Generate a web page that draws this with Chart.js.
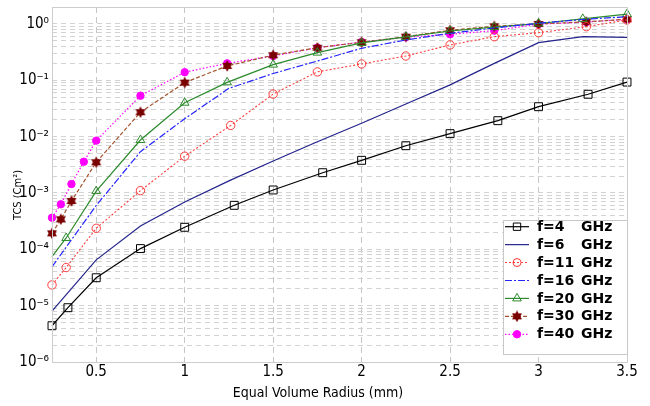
<!DOCTYPE html>
<html>
<head>
<meta charset="utf-8">
<script src="https://cdn.jsdelivr.net/npm/chart.js@4.4.0/dist/chart.umd.min.js"></script>
<style>
html,body{margin:0;padding:0;background:#fff;}
#wrap{width:650px;height:406px;position:relative;}
</style>
</head>
<body>
<div id="wrap"><canvas id="c" width="650" height="406"></canvas></div>
<script>
// ---- data ----
const seriesLabels = ['f=4   GHz', 'f=6   GHz', 'f=11 GHz', 'f=16 GHz', 'f=20 GHz', 'f=30 GHz', 'f=40 GHz'];

const x4  = [0.25, 0.34, 0.5, 0.75, 1.0, 1.28, 1.5, 1.78, 2.0, 2.25, 2.5, 2.77, 3.0, 3.28, 3.5];
const y4  = [4.4e-6, 9.2e-6, 3.13e-5, 1.03e-4, 2.46e-4, 6.04e-4, 1.13e-3, 2.29e-3, 3.8e-3, 6.9e-3, 1.13e-2, 1.92e-2, 3.4e-2, 5.65e-2, 9.3e-2];

const x6  = [0.25, 0.5, 0.75, 1.0, 1.25, 1.5, 1.75, 2.0, 2.25, 2.5, 2.75, 3.0, 3.25, 3.5];
const y6  = [8.0e-6, 6.5e-5, 2.6e-4, 6.9e-4, 1.64e-3, 3.7e-3, 8.1e-3, 1.73e-2, 3.8e-2, 8.3e-2, 0.20, 0.466, 0.595, 0.58];

const x11 = [0.25, 0.33, 0.5, 0.75, 1.0, 1.26, 1.5, 1.75, 2.0, 2.25, 2.5, 2.75, 3.0, 3.27, 3.5];
const y11 = [2.33e-5, 4.75e-5, 2.36e-4, 1.10e-3, 4.5e-3, 1.58e-2, 5.7e-2, 0.141, 0.195, 0.27, 0.424, 0.595, 0.70, 0.895, 1.18];

const x16 = [0.25, 0.5, 0.75, 1.0, 1.25, 1.5, 1.75, 2.0, 2.25, 2.5, 2.75, 3.0, 3.25, 3.5];
const y16 = [4.9e-5, 6.0e-4, 5.4e-3, 2.08e-2, 7.2e-2, 0.132, 0.22, 0.37, 0.52, 0.684, 0.85, 1.03, 1.2, 1.35];

const x20 = [0.25, 0.33, 0.5, 0.75, 1.0, 1.24, 1.5, 1.75, 2.0, 2.25, 2.5, 2.75, 3.0, 3.25, 3.5];
const y20 = [7.4e-5, 1.59e-4, 1.08e-3, 8.7e-3, 4.0e-2, 9.2e-2, 0.19, 0.31, 0.46, 0.59, 0.75, 0.88, 1.02, 1.23, 1.50];

const x30 = [0.25, 0.3, 0.36, 0.5, 0.75, 1.0, 1.24, 1.5, 1.75, 2.0, 2.25, 2.5, 2.75, 3.0, 3.27, 3.5];
const y30 = [1.92e-4, 3.41e-4, 7.2e-4, 3.51e-3, 2.71e-2, 9.1e-2, 0.18, 0.279, 0.379, 0.473, 0.595, 0.773, 0.91, 1.0, 1.09, 1.21];

const x40 = [0.25, 0.3, 0.36, 0.43, 0.5, 0.75, 1.0, 1.24, 1.5, 1.75, 2.0, 2.25, 2.5, 2.75, 3.0, 3.27, 3.5];
const y40 = [3.64e-4, 6.3e-4, 1.44e-3, 3.59e-3, 8.5e-3, 5.33e-2, 0.139, 0.20, 0.27, 0.379, 0.479, 0.58, 0.656, 0.76, 0.99, 1.08, 1.21];

const xTickValues = [0.5, 1, 1.5, 2, 2.5, 3, 3.5];
const yDecades = [-6, -5, -4, -3, -2, -1, 0];
const xTitle = 'Equal Volume Radius (mm)';
const yTitle = 'TCS (Cm\u00B2)';

// ---- helpers ----
const FONT = "'DejaVu Sans Condensed','DejaVu Sans',sans-serif";
Chart.defaults.font.family = FONT;
Chart.defaults.color = '#000';

const SUP = {'0':'\u2070','1':'\u00B9','2':'\u00B2','3':'\u00B3','4':'\u2074','5':'\u2075','6':'\u2076','7':'\u2077','8':'\u2078','9':'\u2079','-':'\u207B'};
function sup(n){ return String(n).split('').map(c => SUP[c]).join(''); }
function pts(xs, ys){ return xs.map((x, i) => ({x: x, y: ys[i]})); }

// hexagram marker
function makeStar(color){
  const c = document.createElement('canvas');
  c.width = 12; c.height = 12;
  const g = c.getContext('2d');
  const cx = 6, cy = 6, r = 5.8;
  g.fillStyle = color;
  [0, Math.PI].forEach(off => {
    g.beginPath();
    for (let k = 0; k < 3; k++) {
      const a = off - Math.PI / 2 + k * 2 * Math.PI / 3;
      const px = cx + r * Math.cos(a), py = cy + r * Math.sin(a);
      if (k === 0) g.moveTo(px, py); else g.lineTo(px, py);
    }
    g.closePath(); g.fill();
  });
  return c;
}
const starImg = makeStar('#7a0000');

const yTickList = [];
yDecades.forEach(e => {
  if (e === 0) { yTickList.push(1); return; }
  for (let m = 1; m <= 9; m++) yTickList.push(parseFloat((m * Math.pow(10, e)).toPrecision(6)));
});

const NONE = 'rgba(0,0,0,0)';
const datasets = [
  {label: seriesLabels[0], data: pts(x4, y4), borderColor: '#000000', borderWidth: 1.2,
   pointStyle: 'rect', pointRadius: 5.6, pointBorderColor: '#000000', pointBackgroundColor: NONE, pointBorderWidth: 1, legendRadius: 5.2},
  {label: seriesLabels[1], data: pts(x6, y6), borderColor: '#23238c', borderWidth: 1.2, pointRadius: 0, legendRadius: 0},
  {label: seriesLabels[2], data: pts(x11, y11), borderColor: '#ff3a3a', borderWidth: 1.1, borderDash: [2, 2],
   pointStyle: 'circle', pointRadius: 4.2, pointBorderColor: '#ff3a3a', pointBackgroundColor: NONE, pointBorderWidth: 1, legendRadius: 4},
  {label: seriesLabels[3], data: pts(x16, y16), borderColor: '#2525ff', borderWidth: 1.2, borderDash: [7, 2, 2, 2], pointRadius: 0, legendRadius: 0},
  {label: seriesLabels[4], data: pts(x20, y20), borderColor: '#2b8a2b', borderWidth: 1.2,
   pointStyle: 'triangle', pointRadius: ctx => ctx.dataIndex === 0 ? 0 : 5, pointBorderColor: '#2b8a2b', pointBackgroundColor: NONE, pointBorderWidth: 1, legendRadius: 5},
  {label: seriesLabels[5], data: pts(x30, y30), borderColor: '#a4522d', borderWidth: 1.2, borderDash: [4, 2],
   pointStyle: starImg, pointRadius: 5, pointBorderColor: '#7a0000', pointBackgroundColor: '#7a0000', legendRadius: 5},
  {label: seriesLabels[6], data: pts(x40, y40), borderColor: '#ff00ff', borderWidth: 1.2, borderDash: [1.5, 2],
   pointStyle: 'circle', pointRadius: 3.7, pointBorderColor: '#ff00ff', pointBackgroundColor: '#ff00ff', pointBorderWidth: 1, legendRadius: 3.7}
];
datasets.forEach(d => { d.fill = false; d.tension = 0; d.clip = false; });

function drawMarker(ctx, style, r, x, y, stroke, fill){
  ctx.save();
  ctx.setLineDash([]);
  ctx.lineWidth = 1;
  ctx.strokeStyle = stroke; ctx.fillStyle = fill;
  if (style instanceof HTMLCanvasElement) {
    ctx.drawImage(style, x - style.width / 2, y - style.height / 2);
  } else if (style === 'rect') {
    const s = r * Math.SQRT1_2;
    ctx.beginPath(); ctx.rect(x - s, y - s, 2 * s, 2 * s); ctx.fill(); ctx.stroke();
  } else if (style === 'triangle') {
    ctx.beginPath();
    for (let k = 0; k < 3; k++) {
      const a = -Math.PI / 2 + k * 2 * Math.PI / 3;
      const px = x + r * Math.cos(a), py = y + r * Math.sin(a);
      if (k === 0) ctx.moveTo(px, py); else ctx.lineTo(px, py);
    }
    ctx.closePath(); ctx.fill(); ctx.stroke();
  } else {
    ctx.beginPath(); ctx.arc(x, y, r, 0, Math.PI * 2); ctx.fill(); ctx.stroke();
  }
  ctx.restore();
}

const decor = {
  id: 'decor',
  afterDraw(chart){
    const ctx = chart.ctx, a = chart.chartArea;
    ctx.save();
    // plot frame
    ctx.setLineDash([]);
    ctx.strokeStyle = '#cdcdcd'; ctx.lineWidth = 1;
    ctx.strokeRect(Math.round(a.left) + 0.5, Math.round(a.top) + 0.5, Math.round(a.right - a.left), Math.round(a.bottom - a.top));
    // axis titles
    ctx.fillStyle = '#000';
    ctx.textAlign = 'center'; ctx.textBaseline = 'middle';
    ctx.font = "14px " + FONT;
    ctx.fillText(xTitle, 318, 393);
    ctx.save();
    ctx.translate(18, 195); ctx.rotate(-Math.PI / 2);
    ctx.font = "11px " + FONT;
    ctx.fillText(yTitle, 0, 0);
    ctx.restore();
    // legend
    const lx = 503, ly = 220, lw = 124, lh = 134;
    ctx.fillStyle = '#fff'; ctx.fillRect(lx, ly, lw, lh);
    ctx.strokeStyle = '#c8c8c8'; ctx.strokeRect(lx + 0.5, ly + 0.5, lw, lh);
    chart.data.datasets.forEach((ds, i) => {
      const y = 226.7 + i * 17.93;
      ctx.save();
      ctx.strokeStyle = ds.borderColor; ctx.lineWidth = ds.borderWidth;
      ctx.setLineDash(ds.borderDash || []);
      ctx.beginPath(); ctx.moveTo(505, y); ctx.lineTo(529, y); ctx.stroke();
      ctx.restore();
      if (ds.legendRadius > 0) drawMarker(ctx, ds.pointStyle, ds.legendRadius, 517, y, ds.pointBorderColor, ds.pointBackgroundColor);
      ctx.fillStyle = '#000';
      ctx.font = "bold 14px 'DejaVu Sans',sans-serif";
      ctx.textAlign = 'left'; ctx.textBaseline = 'middle';
      const parts = ds.label.split(/\s+/);
      ctx.fillText(parts[0], 537, y + 0.5);
      ctx.fillText(parts.slice(1).join(' '), 581, y + 0.5);
    });
    ctx.restore();
  }
};

new Chart(document.getElementById('c'), {
  type: 'line',
  data: {datasets: datasets},
  plugins: [decor],
  options: {
    responsive: false,
    animation: false,
    events: [],
    layout: {padding: {left: 0, right: 23, top: 7, bottom: 0}},
    plugins: {legend: {display: false}, tooltip: {enabled: false}, title: {display: false}},
    scales: {
      x: {
        type: 'linear', min: 0.25, max: 3.5,
        afterBuildTicks: s => { s.ticks = xTickValues.map(v => ({value: v})); },
        afterFit: s => { s.height = 44; s.paddingLeft = 0; s.paddingRight = 0; },
        ticks: {autoSkip: false, maxRotation: 0, padding: 1, font: {size: 15}, callback: v => String(v)},
        grid: {color: '#c6c6c6', lineWidth: 1, drawTicks: false},
        border: {display: false, dash: [6, 4]},
        title: {display: false}
      },
      y: {
        type: 'logarithmic', min: 1e-6, max: 2,
        afterBuildTicks: s => { s.ticks = yTickList.map(v => ({value: v})); },
        afterFit: s => { s.width = 52; s.paddingTop = 0; s.paddingBottom = 0; },
        ticks: {autoSkip: false, padding: 3, font: {size: 15},
          callback: v => { const e = Math.log10(v); const r = Math.round(e); return Math.abs(e - r) < 1e-6 ? '10' + sup(r) : ''; }},
        grid: {color: '#d2d2d2', lineWidth: 1, drawTicks: false},
        border: {display: false, dash: [5, 4]},
        title: {display: false}
      }
    }
  }
});
</script>
</body>
</html>
